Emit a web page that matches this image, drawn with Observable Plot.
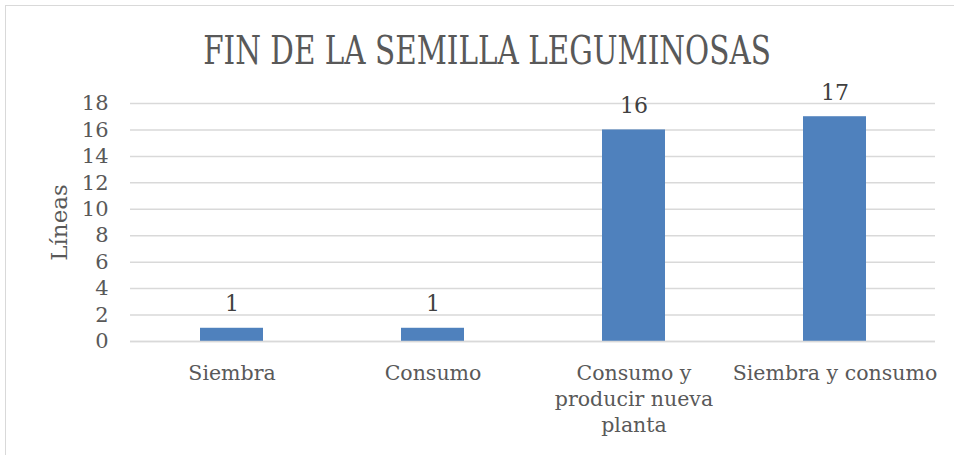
<!DOCTYPE html>
<html><head><meta charset="utf-8">
<script src="https://cdn.jsdelivr.net/npm/d3@7"></script>
<script src="https://cdn.jsdelivr.net/npm/@observablehq/plot@0.6"></script>
<style>
body{margin:0;background:#fff;}
#wrap{position:relative;width:954px;height:455px;overflow:hidden;background:#fff;}
#frame{position:absolute;left:5px;top:5px;width:1000px;height:1000px;border:1.5px solid #d9d9d9;box-sizing:border-box;}
#title{position:absolute;left:10px;top:27px;width:954px;text-align:center;font-family:"DejaVu Serif",serif;font-size:39px;line-height:48px;color:#595959;white-space:nowrap;transform:scaleX(0.755);transform-origin:477px 0;}
#chart{position:absolute;left:0;top:88px;}
</style></head>
<body>
<div id="wrap">
  <div id="frame"></div>
  <div id="title">FIN DE LA SEMILLA LEGUMINOSAS</div>
  <div id="chart"></div>
</div>
<script>
const categories = ["Siembra", "Consumo", "Consumo y producir nueva planta", "Siembra y consumo"];
const values = [1, 1, 16, 17];
const categoryLabels = ["Siembra", "Consumo", "Consumo y\nproducir nueva\nplanta", "Siembra y consumo"];
const yTicks = [0, 2, 4, 6, 8, 10, 12, 14, 16, 18];
const yLabel = "Líneas";

const data = categories.map((c, i) => ({category: c, value: values[i]}));
const font = '"DejaVu Serif",serif';

const chart = Plot.plot({
  width: 954,
  height: 367,
  marginTop: 15,
  marginBottom: 114,
  marginLeft: 130,
  marginRight: 19,
  style: {fontFamily: font, color: "#595959", background: "transparent", overflow: "visible"},
  x: {domain: categories, paddingInner: 0.687, paddingOuter: 0.343, label: null},
  y: {domain: [0, 18], label: null},
  marks: [
    Plot.gridY(yTicks, {stroke: "#d9d9d9", strokeOpacity: 1, strokeWidth: 1.5}),
    Plot.barY(data, {x: "category", y: "value", fill: "#4f81bd"}),
    Plot.ruleY([0], {stroke: "#d9d9d9", strokeWidth: 1.5}),
    Plot.text(data, {x: "category", y: "value", text: d => String(d.value), dy: -17, lineAnchor: "bottom", fontSize: 22, fill: "#404040"}),
    Plot.axisY({ticks: yTicks, tickSize: 0, tickPadding: 22, fontSize: 21, label: null}),
    Plot.axisX({tickSize: 0, tickPadding: 20, fontSize: 20.5, lineHeight: 1.27, label: null,
      tickFormat: d => categoryLabels[categories.indexOf(d)]}),
    Plot.text([yLabel], {frameAnchor: "left", textAnchor: "middle", dx: -71, rotate: -90, fontSize: 23, fill: "#595959"})
  ]
});
document.getElementById("chart").appendChild(chart);
</script>
</body></html>
